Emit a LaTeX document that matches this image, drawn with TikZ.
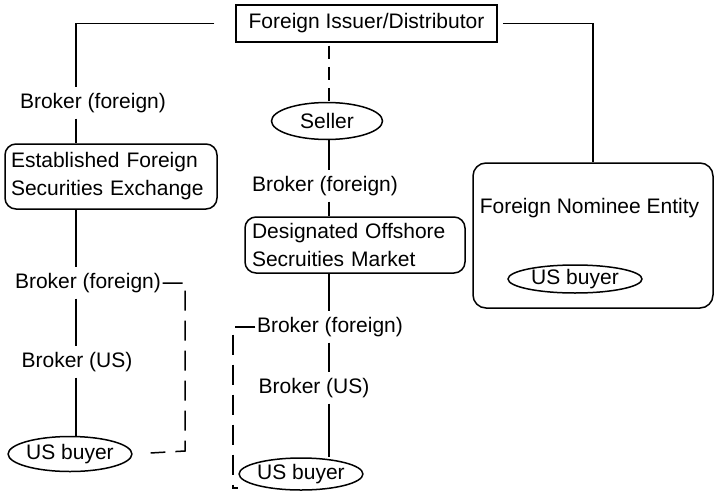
\documentclass[tikz,border=0pt]{standalone}
\usepackage{fontspec}
\setmainfont{Liberation Sans}
\usetikzlibrary{shapes.geometric}
\begin{document}
\begin{tikzpicture}[x=1pt,y=-1pt,line width=1.5pt,
  txt/.style={font=\fontsize{21}{28}\selectfont},
  lbl/.style={txt,inner xsep=1pt,inner ysep=5pt},
  sqbox/.style={txt,draw,inner sep=0pt},
  rbox/.style={txt,draw,rounded corners=11pt,inner sep=0pt,align=left},
  oval/.style={txt,draw,ellipse,inner sep=0pt},
  dsh/.style={dash pattern=on 20pt off 10pt},
  dshs/.style={dash pattern=on 13pt off 8pt,dash phase=18pt}]
\useasboundingbox (0,0) rectangle (714,495);
\coordinate (colL) at (76,0);
\coordinate (colM) at (329,0);
% nodes
\node[sqbox,minimum width=261pt,minimum height=37pt] (issuer) at (366.5,23.5) {Foreign Issuer/Distributor};
\node[lbl] (bTL) at (93,103) {Broker (foreign)};
\node[rbox,minimum width=212pt,minimum height=65pt,text width=200pt] (efse) at (111,176.5) {Established Foreign\\Securities Exchange};
\node[lbl] (bL2) at (88,283) {Broker (foreign)};
\node[lbl] (bUSL) at (77,362) {Broker (US)};
\node[oval,minimum width=115pt,minimum height=35pt] (buyL) at (70,454) {US buyer};
\node[oval,minimum width=111pt,minimum height=37pt] (seller) at (327,121) {Seller};
\node[lbl] (bM1) at (325,186) {Broker (foreign)};
\node[rbox,minimum width=220pt,minimum height=56pt,text width=206pt] (dosm) at (355,245) {Designated Offshore\\Secruities Market};
\node[lbl] (bM2) at (330,327) {Broker (foreign)};
\node[lbl] (bUSM) at (314,388) {Broker (US)};
\node[oval,minimum width=113pt,minimum height=32pt] (buyM) at (301,474) {US buyer};
\node[draw,rounded corners=13pt,minimum width=240pt,minimum height=145pt,inner sep=0pt] (nom) at (593,235.5) {};
\node[txt,anchor=west,inner sep=0pt] (nomtxt) at (479,208) {Foreign Nominee Entity};
\node[oval,minimum width=134pt,minimum height=28pt] (buyR) at (575,279) {US buyer};
\coordinate (mB) at (233,488);
\coordinate (lB) at (185,451);
% connectors
\draw[shorten <=21pt] (issuer.west) -| (bTL.north -| colL);
\draw (bTL.south -| colL) -- (efse.north -| colL);
\draw (efse.south -| colL) -- (bL2.north -| colL);
\draw (bL2.south -| colL) -- (bUSL.north -| colL);
\draw (bUSL.south -| colL) -- (buyL.north -| colL);
\draw[dsh,shorten >=18pt] (bL2.east) -| (lB) -- (buyL.east);
\draw[shorten <=5pt] (issuer.east) -| (nom.north);
\draw[dshs] (issuer.south -| colM) -- (seller.north -| colM);
\draw (seller.south -| colM) -- (bM1.north -| colM);
\draw (bM1.south -| colM) -- (dosm.north -| colM);
\draw (dosm.south -| colM) -- (bM2.north -| colM);
\draw (bM2.south -| colM) -- (bUSM.north -| colM);
\draw (bUSM.south -| colM) -- (buyM.north -| colM);
\draw[dsh] (bM2.west) -| (mB) -- (mB -| buyM.west);
\end{tikzpicture}
\end{document}
